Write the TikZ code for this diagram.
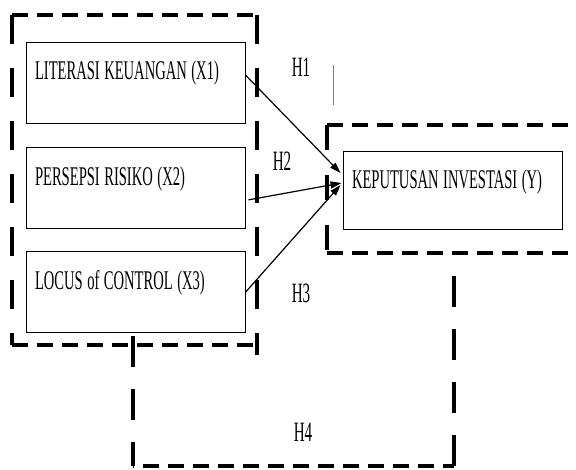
\documentclass[tikz,border=0pt]{standalone}
\usepackage{fontspec}
\setmainfont{Liberation Serif}[FakeStretch=0.54]
\usepackage{tikz}
\usetikzlibrary{arrows.meta,positioning}

\begin{document}
\begin{tikzpicture}[x=1pt, y=-1pt,
varbox/.style={draw, line width=0.9pt, text width=201pt, align=left, inner xsep=9pt, inner ysep=4pt, text height=34pt, text depth=39pt, font=\fontsize{27}{30}\selectfont, execute at begin node={\spaceskip=4.5pt\relax}},
hyplabel/.style={inner sep=0pt, font=\fontsize{28}{30}\selectfont},
arrow/.style={-{Triangle[length=11pt,width=7pt]}, line width=1.2pt},
hframe/.style={line width=4pt, dash pattern=on 16pt off 9pt},
vframe/.style={line width=4pt, dash pattern=on 29pt off 24pt}
]
\useasboundingbox (0,0) rectangle (576,470);

\node[varbox] (x1) at (135.5,82.5) {LITERASI KEUANGAN (X1)};
\node[varbox, below=24pt of x1] (x2) {PERSEPSI RISIKO (X2)};
\node[varbox, below=22pt of x2] (x3) {LOCUS of CONTROL (X3)};
\node[varbox, text depth=36pt] (y) at (452.5,190) {KEPUTUSAN INVESTASI (Y)};

\node[hyplabel] (h1) at (301,67) {H1};
\node[hyplabel] (h2) at (282,161) {H2};
\node[hyplabel] (h3) at (301,293) {H3};
\node[hyplabel] (h4) at (303,432) {H4};

\coordinate (gtl) at (12,15);
\coordinate (gtr) at (257,15);
\coordinate (gbl) at (12,345);
\coordinate (gbr) at (257,345);
\coordinate (rtl) at (327,125);
\coordinate (rtr) at (576,125);
\coordinate (rbl) at (327,253);
\coordinate (rbr) at (576,253);
\coordinate (m1) at (133,336);
\coordinate (m2) at (133,466);
\coordinate (m3) at (454,466);
\coordinate (m4) at (454,270);

\draw[hframe] (gtl) -- (gtr);
\draw[vframe] (gtl) -- (gbl);
\draw[vframe] (gtr) -- ([yshift=-10pt]gbr);
\draw[hframe] (gbl) -- (gbr);

\draw[hframe] (rtl) -- (rtr);
\draw[vframe, dash pattern=on 25pt off 25pt] (rtl) -- (rbl);
\draw[hframe] (rbl) -- (rbr);

\draw[vframe, dash pattern=on 31pt off 22pt] (m1) -- (m2);
\draw[hframe, dash phase=-10pt] (m2) -- (m3);
\draw[vframe, dash pattern=on 31pt off 22pt] (m3) -- (m4);

\draw[line width=0.6pt, gray] (333,65) -- (333,105);

\draw[arrow] ([yshift=7.5pt]x1.east) -- ([xshift=-2pt,yshift=17pt]y.west);
\draw[arrow] ([xshift=3pt,yshift=-11.5pt]x2.east) -- ([xshift=-1pt,yshift=7pt]y.west);
\draw[arrow] (x3.east) -- ([xshift=-2pt,yshift=5pt]y.west);
\end{tikzpicture}
\end{document}
